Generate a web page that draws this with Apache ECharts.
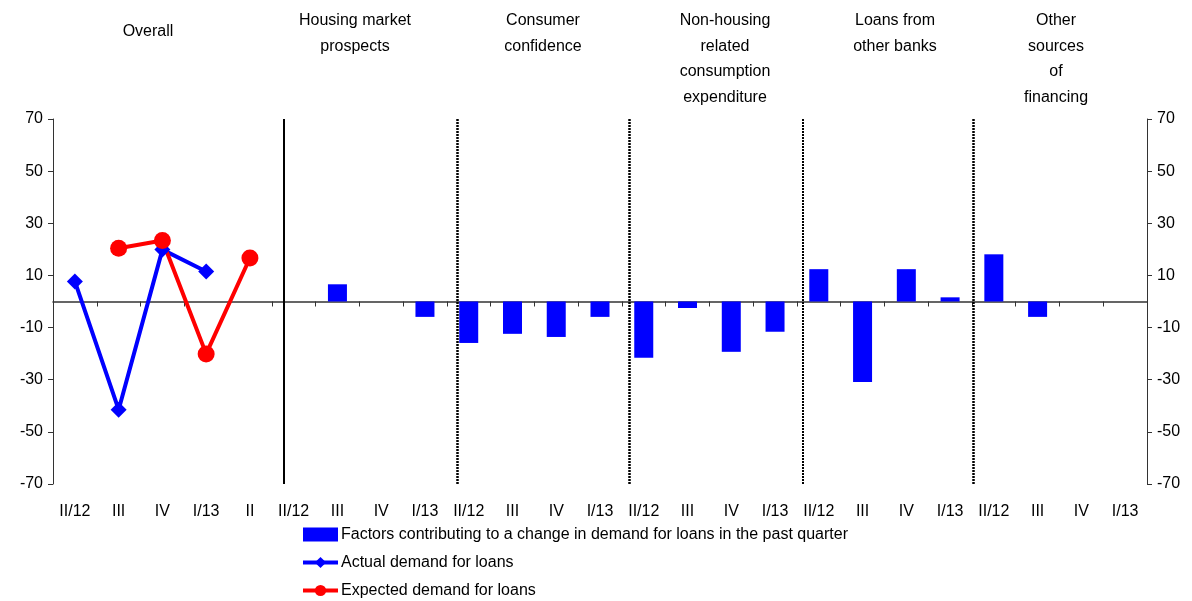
<!DOCTYPE html>
<html>
<head>
<meta charset="utf-8">
<script src="https://cdn.jsdelivr.net/npm/echarts@6/dist/echarts.min.js"></script>
<style>html,body{margin:0;padding:0;background:#fff;}#c{width:1192px;height:601px;}</style>
</head>
<body>
<div id="c"></div>
<script>
// ---- data ----
const categories = ['II/12','III','IV','I/13','II',
  'II/12','III','IV','I/13',
  'II/12','III','IV','I/13',
  'II/12','III','IV','I/13',
  'II/12','III','IV','I/13',
  'II/12','III','IV','I/13'];
const factorValues = [null,null,null,null,null,
  0,6.6,0,-5.9,
  -15.9,-12.4,-13.6,-5.9,
  -21.6,-2.5,-19.3,-11.6,
  12.4,-30.9,12.4,1.6,
  18.1,-5.9,0,0];
const actualValues = [7.7,-41.5,19.9,11.5,null,
  null,null,null,null,null,null,null,null,null,null,null,null,null,null,null,null,null,null,null,null];
const expectedValues = [null,20.4,23.4,-20.1,16.7,
  null,null,null,null,null,null,null,null,null,null,null,null,null,null,null,null,null,null,null,null];
const groupTitles = ['Overall','Housing market\nprospects','Consumer\nconfidence',
  'Non-housing\nrelated\nconsumption\nexpenditure','Loans from\nother banks','Other\nsources\nof\nfinancing'];
const seriesNames = ['Factors contributing to a change in demand for loans in the past quarter',
  'Actual demand for loans','Expected demand for loans'];

// ---- layout ----
const FONT = 'Liberation Sans, Arial, sans-serif';
const titleX = [148, 355, 543, 725, 895, 1056];
const titleY = [19, 8, 8, 8, 8, 8];
const chart = echarts.init(document.getElementById('c'));
const titles = groupTitles.map((t, i) => ({
  text: t, left: titleX[i], top: titleY[i], textAlign: 'center', padding: 0,
  textStyle: {fontFamily: FONT, fontSize: 16, fontWeight: 'normal', color: '#000', lineHeight: 25.5}
}));
const yAxisCommon = {
  type: 'value', min: -70, max: 70, interval: 20,
  splitLine: {show: false},
  axisLine: {show: true, lineStyle: {color: '#333', width: 1}},
  axisTick: {show: true, length: 5, lineStyle: {color: '#333'}},
  axisLabel: {fontFamily: FONT, fontSize: 16, color: '#000', margin: 10}
};
chart.setOption({
  animation: false,
  backgroundColor: '#fff',
  title: titles,
  grid: {left: 53, right: 45, top: 119, bottom: 117},
  legend: {
    orient: 'vertical', left: 301, top: 525, itemGap: 9, padding: 0, height: 76,
    itemWidth: 35, itemHeight: 14,
    data: [
      {name: seriesNames[0], icon: 'rect'},
      {name: seriesNames[1], lineStyle: {width: 4}},
      {name: seriesNames[2], lineStyle: {width: 4}}
    ],
    textStyle: {fontFamily: FONT, fontSize: 16, color: '#000', lineHeight: 19, padding: [0,0,0,-2]}
  },
  xAxis: [
    {type: 'category', data: categories, position: 'bottom',
     axisLine: {show: true, onZero: true, lineStyle: {color: '#333', width: 1.5}},
     axisTick: {show: true, length: 5, lineStyle: {color: '#333'}},
     axisLabel: {show: false}},
    {type: 'category', data: categories, position: 'bottom',
     axisLine: {show: false, onZero: false}, axisTick: {show: false},
     axisLabel: {show: true, interval: 0, fontFamily: FONT, fontSize: 16, color: '#000', margin: 20}},
    {type: 'value', min: 0, max: 25, show: false}
  ],
  yAxis: [
    Object.assign({position: 'left'}, yAxisCommon),
    Object.assign({position: 'right'}, yAxisCommon)
  ],
  series: [
    {name: seriesNames[0], type: 'bar', data: factorValues, barWidth: 19,
     itemStyle: {color: '#0000FF'}, xAxisIndex: 0, yAxisIndex: 0},
    {name: seriesNames[1], type: 'line', data: actualValues, xAxisIndex: 0, yAxisIndex: 0,
     symbol: 'diamond', symbolSize: 16, showAllSymbol: true,
     lineStyle: {color: '#0000FF', width: 4}, itemStyle: {color: '#0000FF'}},
    {name: seriesNames[2], type: 'line', data: expectedValues, xAxisIndex: 0, yAxisIndex: 0,
     symbol: 'circle', symbolSize: 17, showAllSymbol: true,
     lineStyle: {color: '#FF0000', width: 4}, itemStyle: {color: '#FF0000'}},
    {name: 'separators', type: 'scatter', data: [[0, 0]], symbolSize: 0, xAxisIndex: 2, yAxisIndex: 0,
     silent: true,
     markLine: {
       silent: true, symbol: 'none', label: {show: false},
       data: [
         {xAxis: 5.28, lineStyle: {color: '#000', width: 2, type: 'solid'}},
         {xAxis: 9.24, lineStyle: {color: '#000', width: 2.5, type: [2, 1]}},
         {xAxis: 13.17, lineStyle: {color: '#000', width: 2.5, type: [2, 1]}},
         {xAxis: 17.14, lineStyle: {color: '#000', width: 2, type: [2, 1]}},
         {xAxis: 21.04, lineStyle: {color: '#000', width: 2.5, type: [2, 1]}}
       ]
     }}
  ]
});
</script>
</body>
</html>
